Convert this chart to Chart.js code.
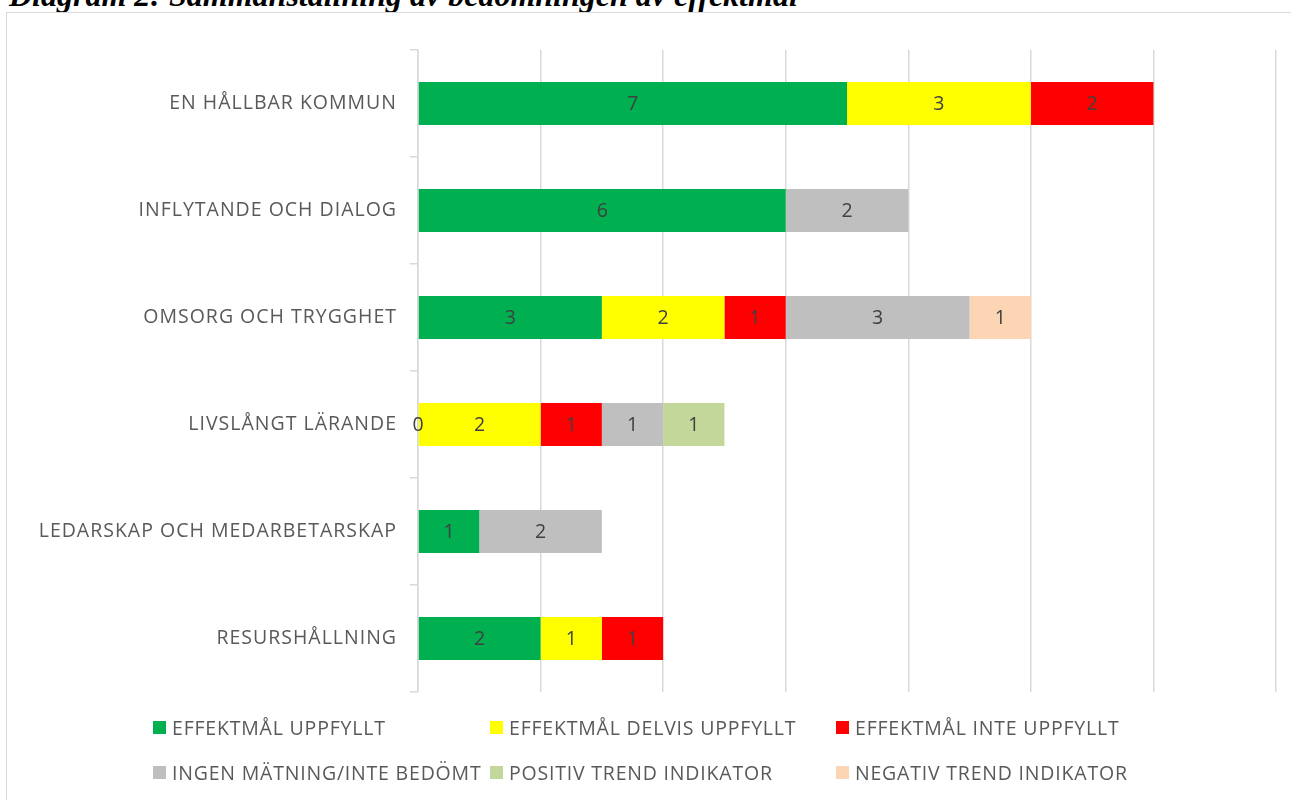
<!DOCTYPE html>
<html>
<head>
<meta charset="utf-8">
<script src="https://cdn.jsdelivr.net/npm/chart.js@4/dist/chart.umd.min.js"></script>
<style>
  html, body { margin: 0; padding: 0; background: #fff; }
  body { width: 1291px; height: 800px; position: relative; overflow: hidden; }
  #title {
    position: absolute; left: 9px; top: -23.5px; white-space: nowrap; line-height: normal;
    font-family: "Liberation Serif", "DejaVu Serif", serif;
    font-weight: bold; font-style: italic; font-size: 32px; color: #000;
  }
  #frame {
    position: absolute; left: 6px; top: 12px; width: 1300px; height: 800px;
    border: 1.5px solid #d9d9d9; box-sizing: border-box;
  }
  #wrap { position: absolute; left: 0; top: 0; width: 1291px; height: 800px; }
  #legend { position: absolute; left: 0; top: 0; width: 1291px; height: 800px; pointer-events: none; }
  .item { position: absolute; display: flex; align-items: center; height: 24px;
          font-family: "Open Sans", sans-serif; font-size: 19.5px; letter-spacing: 0.8px;
          color: #595959; white-space: nowrap; }
  .box { width: 13px; height: 13px; margin-right: 6px; flex: none; }
</style>
</head>
<body>
<div id="title">Diagram 2: Sammanställning av bedömningen av effektmål</div>
<div id="frame"></div>
<div id="wrap"><canvas id="c" width="1291" height="800"></canvas></div>
<div id="legend"></div>
<script>
// Focus areas (top to bottom)
const categories = [
  "EN HÅLLBAR KOMMUN",
  "INFLYTANDE OCH DIALOG",
  "OMSORG OCH TRYGGHET",
  "LIVSLÅNGT LÄRANDE",
  "LEDARSKAP OCH MEDARBETARSKAP",
  "RESURSHÅLLNING"
];

// Series names and counts per focus area (null = no segment)
const seriesNames = [
  "EFFEKTMÅL UPPFYLLT",
  "EFFEKTMÅL DELVIS UPPFYLLT",
  "EFFEKTMÅL INTE UPPFYLLT",
  "INGEN MÄTNING/INTE BEDÖMT",
  "POSITIV TREND INDIKATOR",
  "NEGATIV TREND INDIKATOR"
];
const uppfyllt       = [7, 6, 3, 0, 1, 2];
const delvisUppfyllt = [3, null, 2, 2, null, 1];
const inteUppfyllt   = [2, null, 1, 1, null, 1];
const ingenMatning   = [null, 2, 3, 1, 2, null];
const positivTrend   = [null, null, null, 1, null, null];
const negativTrend   = [null, null, 1, null, null, null];

const seriesColors = ["#00B050", "#FFFF00", "#FF0000", "#BFBFBF", "#C4D79B", "#FCD5B4"];
const seriesValues = [uppfyllt, delvisUppfyllt, inteUppfyllt, ingenMatning, positivTrend, negativTrend];

// Axis range and gridline step
const xMin = 0, xMax = 14, xStep = 2;

const textColor = "#595959";
const gridColor = "#D9D9D9";

// Slightly tracked-out lettering for the axis labels
const trackedText = {
  id: "trackedText",
  beforeDraw(chart) {
    if ("letterSpacing" in chart.ctx) chart.ctx.letterSpacing = "1px";
  }
};

// Value labels centred on each segment
const segmentLabels = {
  id: "segmentLabels",
  afterDatasetsDraw(chart) {
    const ctx = chart.ctx;
    ctx.save();
    if ("letterSpacing" in ctx) ctx.letterSpacing = "0px";
    ctx.font = "19.5px 'Open Sans', sans-serif";
    ctx.fillStyle = "#404040";
    ctx.textAlign = "center";
    ctx.textBaseline = "middle";
    chart.data.datasets.forEach((ds, di) => {
      const meta = chart.getDatasetMeta(di);
      meta.data.forEach((el, i) => {
        const v = ds.data[i];
        if (v === null || v === undefined) return;
        ctx.fillText(String(v), (el.x + el.base) / 2, el.y + 1);
      });
    });
    ctx.restore();
  }
};

new Chart(document.getElementById("c"), {
  type: "bar",
  data: {
    labels: categories,
    datasets: seriesNames.map((name, i) => ({
      label: name,
      data: seriesValues[i],
      backgroundColor: seriesColors[i],
      borderWidth: 0,
      barPercentage: 0.4,
      categoryPercentage: 1.0
    }))
  },
  options: {
    indexAxis: "y",
    responsive: false,
    animation: false,
    layout: { padding: { left: 0, right: 15, top: 50, bottom: 108 } },
    plugins: { legend: { display: false }, tooltip: { enabled: false } },
    scales: {
      x: {
        stacked: true, min: xMin, max: xMax,
        ticks: { display: false, stepSize: xStep },
        grid: { color: gridColor, lineWidth: 1.5, drawTicks: false },
        border: { display: false },
        afterFit(s) { s.height = 0; }
      },
      y: {
        stacked: true,
        ticks: { color: textColor, font: { family: "'Open Sans', sans-serif", size: 19.5 }, padding: 13 },
        grid: { offset: true, drawOnChartArea: false, color: gridColor, lineWidth: 1.5, tickLength: 8 },
        border: { display: true, color: gridColor, width: 1.5 },
        afterFit(s) { s.width = 418; }
      }
    }
  },
  plugins: [trackedText, segmentLabels]
});

// Legend in three columns, two rows
const legendCols = [153, 490, 836];
const legendRows = [727, 772];
const legend = document.getElementById("legend");
seriesNames.forEach((name, i) => {
  const item = document.createElement("div");
  item.className = "item";
  item.style.left = legendCols[i % 3] + "px";
  item.style.top = (legendRows[Math.floor(i / 3)] - 12) + "px";
  const box = document.createElement("span");
  box.className = "box";
  box.style.background = seriesColors[i];
  item.appendChild(box);
  item.appendChild(document.createTextNode(name));
  legend.appendChild(item);
});
</script>
</body>
</html>
